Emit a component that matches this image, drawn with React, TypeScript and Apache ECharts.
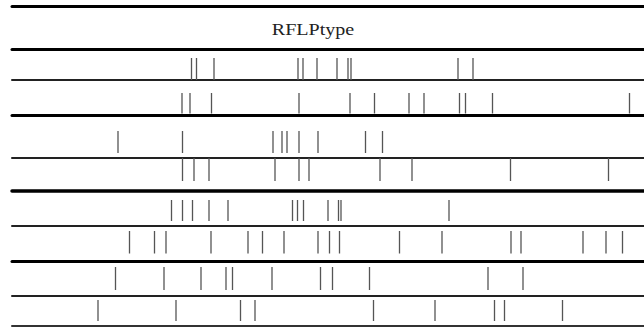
import React, { useEffect, useRef } from "react";
import * as echarts from "echarts";

// Band positions (horizontal position along the strip) for each RFLP type row
const row1 = [191.5, 196.5, 214, 298, 303, 317, 337, 348, 351, 458, 473];
const row2 = [182, 190, 211.5, 299, 350, 374.5, 409, 424, 459.5, 465.5, 492.5, 629.5];
const row3 = [118, 182.5, 273, 282, 287, 299, 318, 365.5, 382.5];
const row4 = [182.5, 194, 209, 275, 299, 309, 380, 412, 510.5, 608.5];
const row5 = [171.5, 182.5, 192.5, 209, 228, 292.5, 297.5, 303.5, 328, 338.5, 341, 449];
const row6 = [129.5, 154.5, 166, 211, 248, 262.5, 284, 318, 329.5, 339.5, 399.5, 442, 511, 521, 583, 606, 622.5];
const row7 = [115.5, 164, 201, 226, 232.5, 272, 320.5, 332.5, 369.5, 488, 523];
const row8 = [98, 176, 240.5, 255, 373.5, 435, 494.5, 504.5, 562.5];

const rows = [row1, row2, row3, row4, row5, row6, row7, row8];
const titleText = "RFLPtype";

const X_MIN = 12;
const X_MAX = 644;

export default function App() {
  const ref = useRef<HTMLDivElement>(null);

  useEffect(() => {
    if (!ref.current) return;
    const chart = echarts.init(ref.current, undefined, { renderer: "svg" });

    // layout (pixels)
    const tickTop = [58, 93, 131, 158, 200, 231, 267, 300];
    const tickBottom = [80, 113.5, 153, 181, 221, 253.5, 290, 321];
    const lineBelow = [80, 115.7, 157.3, 190.7, 226, 261.5, 296, 325.5];
    const lineBelowW = [2, 3, 2, 3.5, 2, 3, 2, 2];
    const lineBelowC = ["#222", "#000", "#222", "#000", "#222", "#000", "#222", "#333"];

    const grids: any[] = [];
    const xAxes: any[] = [];
    const yAxes: any[] = [];
    const series: any[] = [];

    rows.forEach((r, i) => {
      grids.push({
        left: X_MIN,
        right: 0,
        top: tickTop[i],
        height: tickBottom[i] - tickTop[i],
        containLabel: false,
      });
      xAxes.push({
        type: "value",
        gridIndex: i,
        min: X_MIN,
        max: X_MAX,
        position: "bottom",
        offset: lineBelow[i] - tickBottom[i],
        axisLine: {
          show: true,
          onZero: false,
          lineStyle: { color: lineBelowC[i], width: lineBelowW[i] },
        },
        axisTick: { show: false },
        axisLabel: { show: false },
        splitLine: { show: false },
      });
      yAxes.push({
        type: "value",
        gridIndex: i,
        min: 0,
        max: 1,
        show: false,
      });
      series.push({
        type: "custom",
        xAxisIndex: i,
        yAxisIndex: i,
        data: r.map((v) => [v]),
        encode: { x: 0 },
        renderItem: (params: any, api: any) => {
          const x = api.coord([api.value(0), 0])[0];
          const cs = params.coordSys;
          return {
            type: "line",
            shape: { x1: x, y1: cs.y, x2: x, y2: cs.y + cs.height },
            style: { stroke: "#555", lineWidth: 1.3 },
          };
        },
      });
    });

    // header lines (above row 1)
    [
      { y: 49.5, w: 3 },
      { y: 6, w: 3 },
    ].forEach((l) => {
      xAxes.push({
        type: "value",
        gridIndex: 0,
        min: X_MIN,
        max: X_MAX,
        position: "top",
        offset: tickTop[0] - l.y,
        axisLine: { show: true, onZero: false, lineStyle: { color: "#000", width: l.w } },
        axisTick: { show: false },
        axisLabel: { show: false },
        splitLine: { show: false },
      });
    });

    chart.setOption({
      animation: false,
      backgroundColor: "#fff",
      grid: grids,
      xAxis: xAxes,
      yAxis: yAxes,
      series,
      graphic: [
        {
          type: "text",
          x: 313,
          y: 29,
          scaleX: 1.18,
          style: {
            text: titleText,
            x: 0,
            y: 0,
            align: "center",
            verticalAlign: "middle",
            fontFamily: "Liberation Serif",
            fontSize: 17,
            fill: "#222",
          },
        },
      ],
    });

    return () => chart.dispose();
  }, []);

  return (
    <div
      ref={ref}
      style={{ position: "absolute", left: 0, top: 0, width: 644, height: 327 }}
    />
  );
}
